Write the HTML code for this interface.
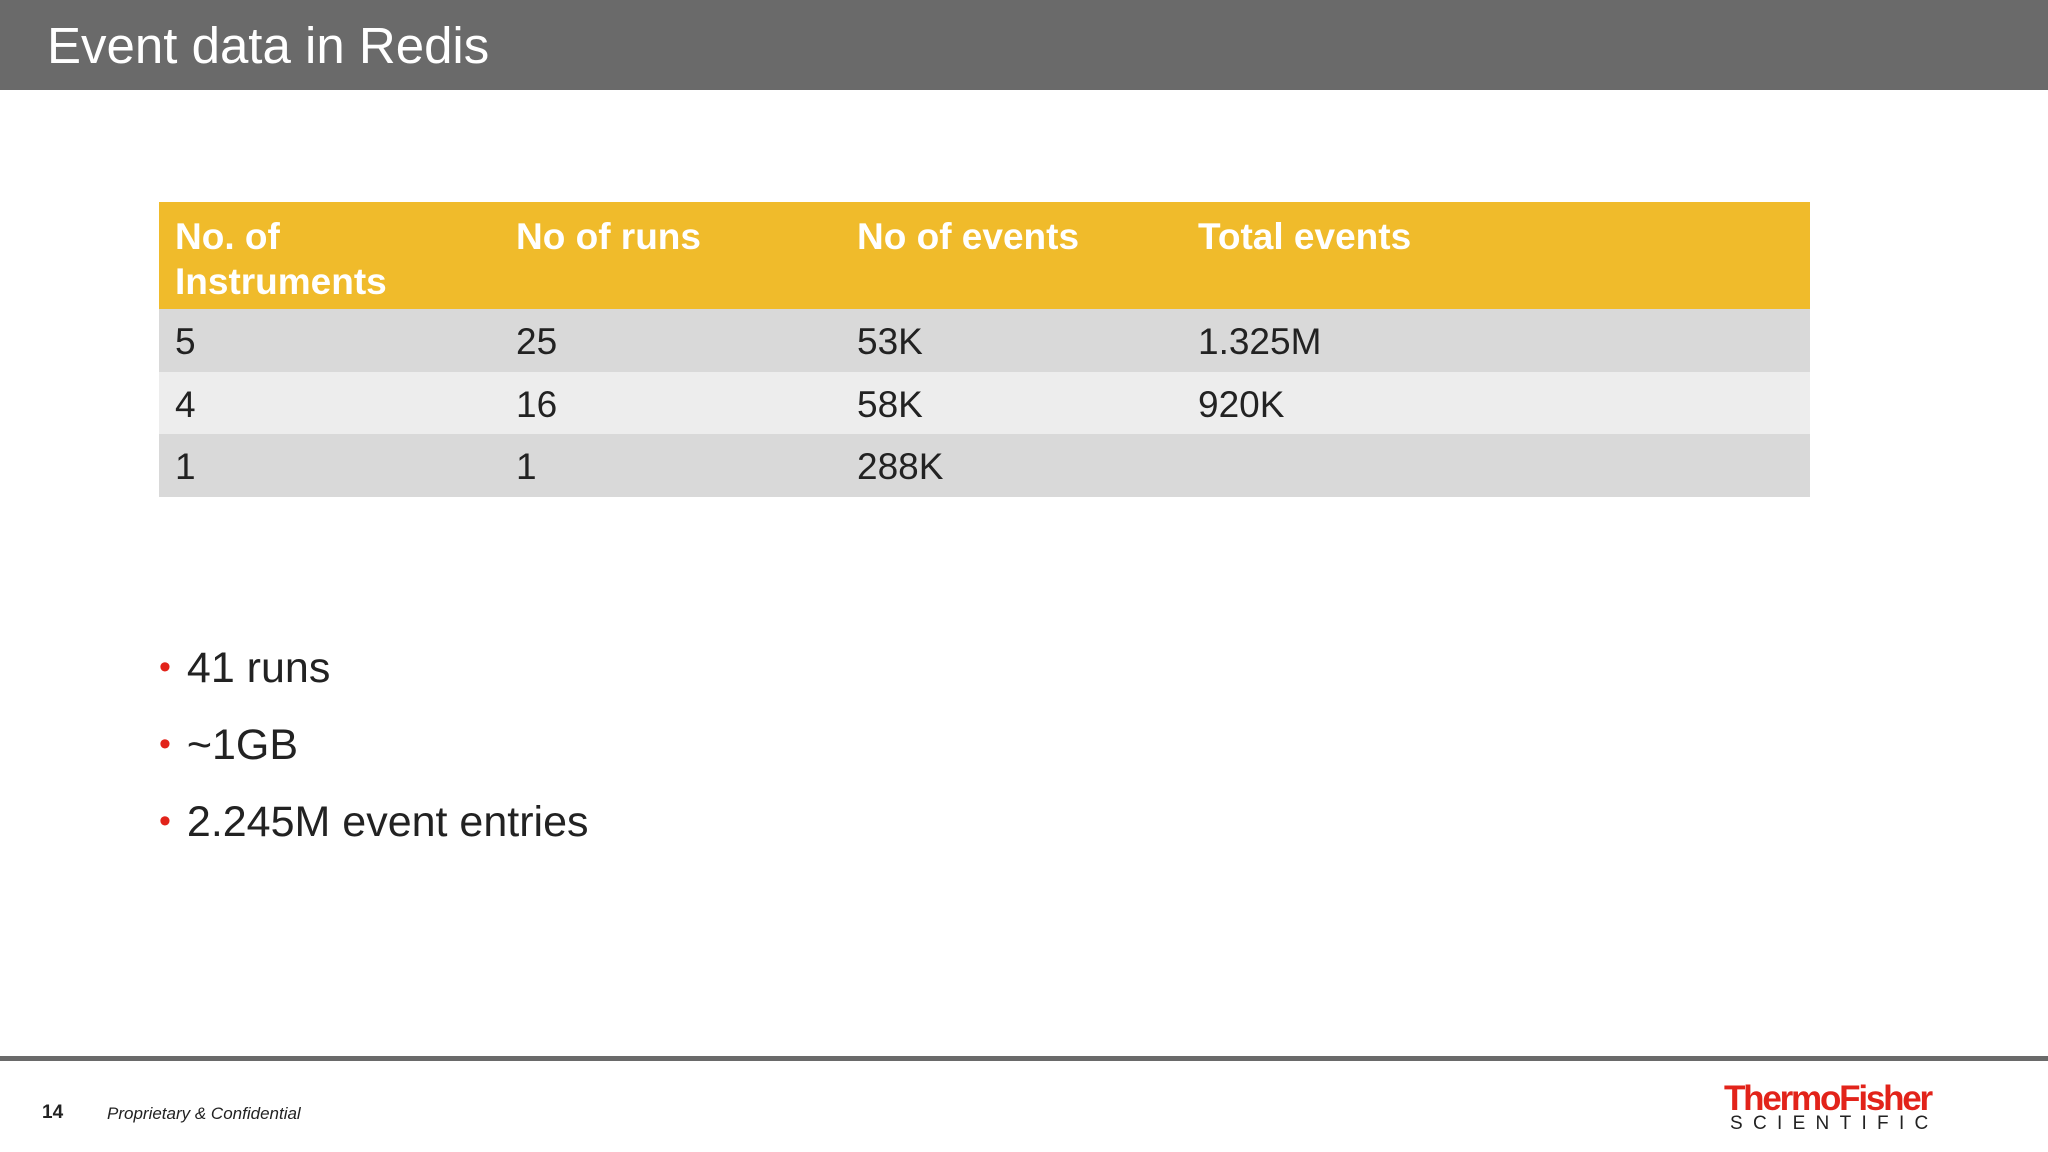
<!DOCTYPE html>
<html><head><meta charset="utf-8"><style>
body{margin:0;width:2048px;height:1152px;background:#fff;position:relative;overflow:hidden;font-family:"Liberation Sans",Arial,sans-serif}
.hdr{position:absolute;left:0;top:0;width:2048px;height:90px;background:#6a6a6a}
.title{position:absolute;left:47px;top:16px;font-size:51px;color:#fff}
table{position:absolute;left:159px;top:202px;width:1651px;border-collapse:collapse}
th{background:#f0bb2b;color:#fff;font-weight:bold;font-size:37px;text-align:left;vertical-align:top;padding:12px 16px 0;height:107px;box-sizing:border-box;line-height:45px}
td{font-size:37px;color:#222;padding:4px 16px 0;height:62.5px;line-height:58px;box-sizing:border-box}
tr.a td{background:#d9d9d9}tr.b td{background:#ededed}
.bul{position:absolute;left:159px;font-size:43px;color:#222}
.bul span{color:#e2231a;font-size:34px;position:relative;top:-4px;margin-right:16px}
.line{position:absolute;left:0;top:1056px;width:2048px;height:5px;background:#6a6a6a}
</style></head><body>
<div class="hdr"><div class="title">Event data in Redis</div></div>
<table>
<tr><th style="width:341px">No. of<br>Instruments</th><th style="width:341px">No of runs</th><th style="width:341px">No of events</th><th>Total events</th></tr>
<tr class="a"><td>5</td><td>25</td><td>53K</td><td>1.325M</td></tr>
<tr class="b"><td>4</td><td>16</td><td>58K</td><td>920K</td></tr>
<tr class="a"><td>1</td><td>1</td><td>288K</td><td></td></tr>
</table>
<div class="bul" style="top:644px"><span>•</span>41 runs</div>
<div class="bul" style="top:721px"><span>•</span>~1GB</div>
<div class="bul" style="top:798px"><span>•</span>2.245M event entries</div>
<div class="line"></div>
<div style="position:absolute;left:42px;top:1102px;font-size:19px;font-weight:bold;color:#222">14</div>
<div style="position:absolute;left:107px;top:1104px;font-size:17px;font-style:italic;color:#222">Proprietary &amp; Confidential</div>
<div style="position:absolute;left:1724px;top:1079px;font-size:35px;font-weight:bold;color:#e2231a;letter-spacing:-2.2px">ThermoFisher</div>
<div style="position:absolute;left:1730px;top:1113px;font-size:19px;color:#222;letter-spacing:10.3px">SCIENTIFIC</div>
</body></html>
